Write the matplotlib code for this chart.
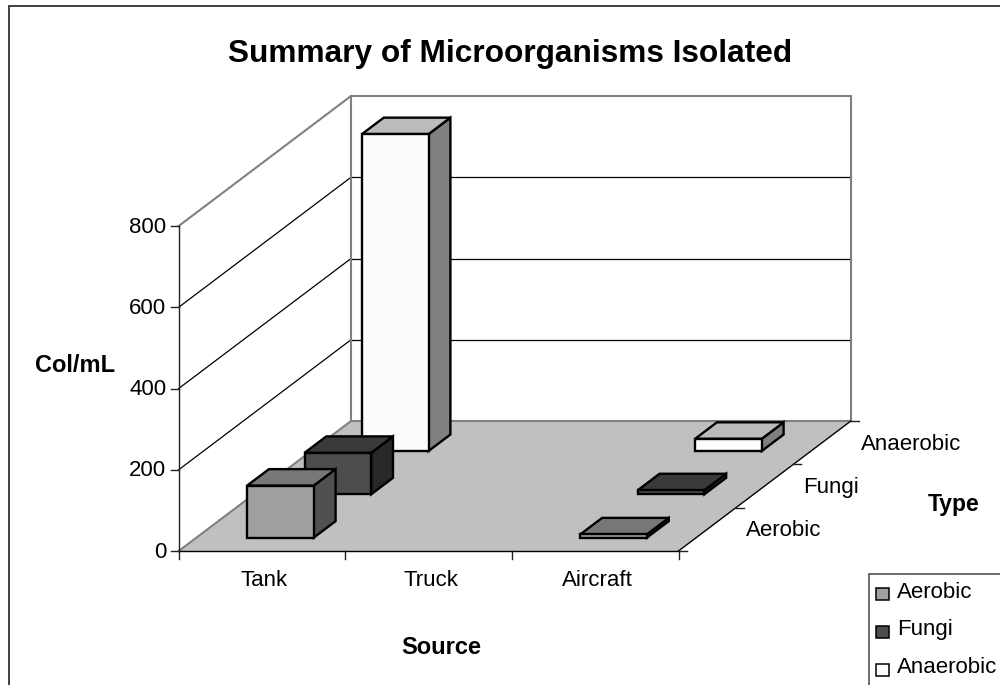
import matplotlib
matplotlib.use("Agg")
import matplotlib.pyplot as plt
from matplotlib.patches import Polygon, Rectangle

sources = ["Tank", "Truck", "Aircraft"]
types = ["Aerobic", "Fungi", "Anaerobic"]
aerobic = [128, 0, 8]
fungi = [102, 0, 10]
anaerobic = [780, 0, 30]
value_ticks = [0, 200, 400, 600, 800]

series = {"Aerobic": aerobic, "Fungi": fungi, "Anaerobic": anaerobic}
FRONT = {"Aerobic": "#a0a0a0", "Fungi": "#4d4d4d", "Anaerobic": "#fcfcfc"}
TOP = {"Aerobic": "#777777", "Fungi": "#3a3a3a", "Anaerobic": "#bbbbbb"}
SIDE = {"Aerobic": "#505050", "Fungi": "#282828", "Anaerobic": "#808080"}

plt.rcParams["font.family"] = ["Liberation Sans", "DejaVu Sans"]
fig = plt.figure(figsize=(10, 6.85), dpi=100)
ax = fig.add_axes([0, 0, 1, 1])
ax.set_xlim(0, 1000)
ax.set_ylim(685, 0)
ax.axis("off")

X0, Y0 = 178.7, 551.0
CAT_W = 166.6
DEPTH_X, DEPTH_Y = 57.4, 43.3
PX_PER_VALUE = 325.0 / 800.0
FS = 16


def proj(cat, row, val):
    """category units, type-row units, data value -> picture pixels"""
    return (X0 + cat * CAT_W + row * DEPTH_X,
            Y0 - row * DEPTH_Y - val * PX_PER_VALUE)


def poly(points, fc, ec, lw, z):
    ax.add_patch(Polygon([proj(*p) for p in points], closed=True, fc=fc, ec=ec,
                         lw=lw, joinstyle="miter", zorder=z))


def line(a, b, color, lw, z=2):
    pa, pb = proj(*a), proj(*b)
    ax.plot([pa[0], pb[0]], [pa[1], pb[1]], color=color, lw=lw, zorder=z,
            solid_capstyle="projecting")


n_c, n_r = len(sources), len(types)

# chart frame
ax.add_patch(Rectangle((9, 6), 1100, 800, fc="white", ec="#404040", lw=1.4, zorder=0))

# floor
poly([(0, 0, 0), (n_c, 0, 0), (n_c, n_r, 0), (0, n_r, 0)], "#c0c0c0", "none", 0, 1)

# gridlines
for v in value_ticks[1:-1]:
    line((0, 0, v), (0, n_r, v), "#000000", 0.9)
    line((0, n_r, v), (n_c, n_r, v), "#000000", 0.9)

# walls' gray edges
GRAY = "#808080"
line((0, 0, 800), (0, n_r, 800), GRAY, 1.5)
line((0, n_r, 800), (n_c, n_r, 800), GRAY, 1.5)
line((0, n_r, 0), (0, n_r, 800), GRAY, 1.5)
line((n_c, n_r, 0), (n_c, n_r, 800), GRAY, 1.5)
line((0, n_r, 0), (n_c, n_r, 0), GRAY, 1.5)
line((0, 0, 0), (0, n_r, 0), GRAY, 1.5)

# axes
line((0, 0, 0), (0, 0, 800), "#222222", 1.0, 3)
line((0, 0, 0), (n_c, 0, 0), "#000000", 1.0, 3)
line((n_c, 0, 0), (n_c, n_r, 0), "#000000", 1.0, 3)

# value ticks and labels
for v in value_ticks:
    x, y = proj(0, 0, v)
    ax.plot([x - 8, x], [y, y], color="#222222", lw=1.0, zorder=3)
    ax.text(x - 12.5, y + 1, str(v), ha="right", va="center", fontsize=FS, color="black")

# category ticks and labels
for c in range(n_c + 1):
    x, y = proj(c, 0, 0)
    ax.plot([x, x], [y, y + 8], color="#222222", lw=1.0, zorder=3)
for c, name in enumerate(sources):
    x, y = proj(c + 0.5, 0, 0)
    ax.text(x + 2, y + 29, name, ha="center", va="center", fontsize=FS)

# depth ticks and labels
for r in range(n_r + 1):
    x, y = proj(n_c, r, 0)
    ax.plot([x, x + 8], [y, y], color="#222222", lw=1.0, zorder=3)
for r, name in enumerate(types):
    x, y = proj(n_c, r + 0.5, 0)
    ax.text(x + 39, y + 1.5, name, ha="left", va="center", fontsize=FS)

# bars, back to front
BAR_W, BAR_D = 0.4, 0.38
for r in reversed(range(n_r)):
    name = types[r]
    for c in range(n_c):
        val = series[name][c]
        if val <= 0:
            continue
        x0, x1 = c + (1 - BAR_W) / 2 + 0.004, c + (1 + BAR_W) / 2 + 0.004
        y0, y1 = r + (1 - BAR_D) / 2, r + (1 + BAR_D) / 2
        z = 10 + (n_r - r) * 2
        lw = 1.7
        poly([(x1, y0, 0), (x1, y1, 0), (x1, y1, val), (x1, y0, val)], SIDE[name], "black", lw, z)
        poly([(x0, y0, val), (x1, y0, val), (x1, y1, val), (x0, y1, val)], TOP[name], "black", lw, z)
        poly([(x0, y0, 0), (x1, y0, 0), (x1, y0, val), (x0, y0, val)], FRONT[name], "black", lw, z + 1)

# titles
ax.text(510, 53.5, "Summary of Microorganisms Isolated", ha="center", va="center",
        fontsize=22.8, fontweight="bold")
ax.text(75, 365, "Col/mL", ha="center", va="center", fontsize=17, fontweight="bold")
ax.text(441, 648, "Source", ha="center", va="center", fontsize=17, fontweight="bold")
ax.text(954, 505, "Type", ha="center", va="center", fontsize=16.5, fontweight="bold")

# legend
ax.add_patch(Rectangle((869, 574), 200, 200, fc="white", ec="#444444", lw=1.1, zorder=20))
for i, name in enumerate(types):
    ax.add_patch(Rectangle((876, 588 + i * 38), 13, 12, fc=FRONT[name], ec="black", lw=1.1, zorder=21))
    ax.text(897, 592.5 + i * 37.5, name, ha="left", va="center", fontsize=FS, zorder=21)

fig.savefig("out.png", dpi=100)
